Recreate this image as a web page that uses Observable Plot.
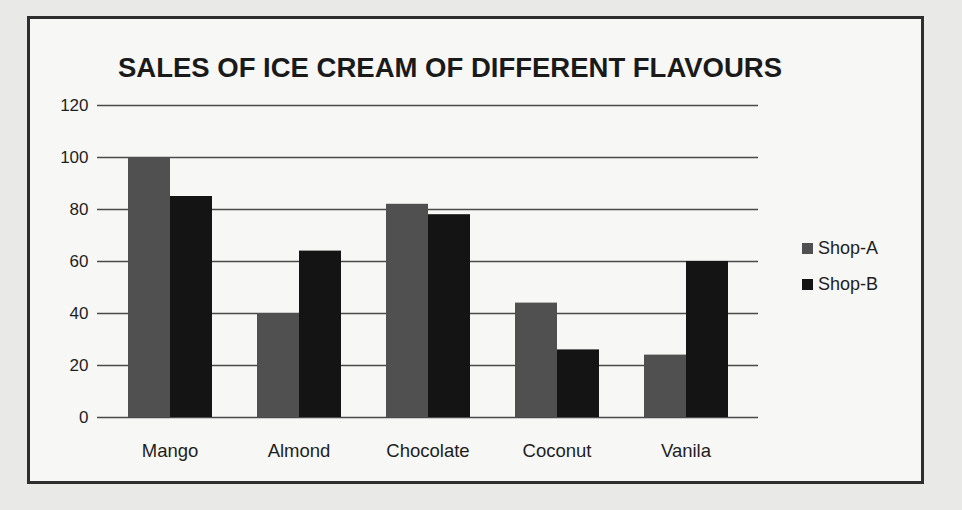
<!DOCTYPE html>
<html>
<head>
<meta charset="utf-8">
<script src="https://cdn.jsdelivr.net/npm/d3@7"></script>
<script src="https://cdn.jsdelivr.net/npm/@observablehq/plot@0.6"></script>
<style>
  html, body { margin: 0; padding: 0; }
  body { width: 962px; height: 510px; background: #e9e9e7; position: relative; overflow: hidden; font-family: "Liberation Sans", Arial, sans-serif; }
  #frame { position: absolute; left: 27px; top: 16px; width: 891px; height: 462px; border: 3px solid #2e2e2e; background: #f7f7f5; }
  #title { position: absolute; left: 0; top: 52px; width: 900px; text-align: center; font-weight: bold; font-size: 27.5px; color: #1a1a1a; }
  .layer { position: absolute; left: 0; top: 90px; }
  #legend { position: absolute; left: 802px; top: 230px; font-size: 18px; color: #1e1e1e; }
  .item { display: flex; align-items: center; height: 36px; }
  .sw { width: 11px; height: 11px; margin-right: 5px; }
</style>
</head>
<body>
<div id="frame"></div>
<div id="title">SALES OF ICE CREAM OF DIFFERENT FLAVOURS</div>
<div id="grid" class="layer"></div>
<div id="chart" class="layer"></div>
<div id="legend"></div>
<script>
const flavours = ["Mango", "Almond", "Chocolate", "Coconut", "Vanila"];
const shops = ["Shop-A", "Shop-B"];
const shopA = [100, 40, 82, 44, 24];
const shopB = [85, 64, 78, 26, 60];
const yTicks = [0, 20, 40, 60, 80, 100, 120];
const colors = ["#505050", "#141414"];

const data = [];
flavours.forEach((f, i) => {
  data.push({flavour: f, shop: shops[0], value: shopA[i]});
  data.push({flavour: f, shop: shops[1], value: shopB[i]});
});

const common = {
  width: 800,
  height: 380,
  marginLeft: 97,
  marginRight: 42,
  marginTop: 15,
  marginBottom: 53,
  style: {background: "transparent", fontFamily: "Liberation Sans, Arial, sans-serif", color: "#1e1e1e"}
};

// background layer: gridlines and y axis spanning the whole plot area
const gridPlot = Plot.plot({
  ...common,
  y: {domain: [0, 120], label: null},
  marks: [
    Plot.ruleY(yTicks, {stroke: "#4a4a4a", strokeWidth: 1.6}),
    Plot.axisY({ticks: yTicks, tickSize: 0, tickPadding: 9, fontSize: 17, label: null})
  ]
});
document.getElementById("grid").appendChild(gridPlot);

// foreground layer: grouped bars and category axis
const barPlot = Plot.plot({
  ...common,
  fx: {domain: flavours, paddingInner: 0.34, paddingOuter: 0.22, label: null},
  x: {domain: shops, padding: 0, axis: null},
  y: {domain: [0, 120], axis: null},
  color: {domain: shops, range: colors},
  marks: [
    Plot.barY(data, {fx: "flavour", x: "shop", y: "value", fill: "shop"}),
    Plot.axisFx({anchor: "bottom", tickSize: 0, tickPadding: 26, fontSize: 18.5, label: null})
  ]
});
document.getElementById("chart").appendChild(barPlot);

const legend = document.getElementById("legend");
shops.forEach((s, i) => {
  const item = document.createElement("div");
  item.className = "item";
  const sw = document.createElement("div");
  sw.className = "sw";
  sw.style.background = colors[i];
  item.appendChild(sw);
  item.appendChild(document.createTextNode(s));
  legend.appendChild(item);
});
</script>
</body>
</html>
